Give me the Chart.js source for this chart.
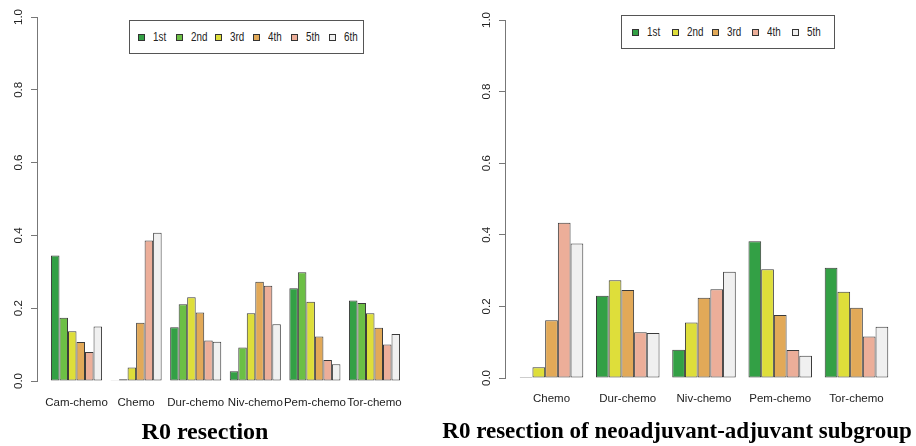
<!DOCTYPE html>
<html>
<head>
<meta charset="utf-8">
<script src="https://cdn.jsdelivr.net/npm/chart.js@4.4.1/dist/chart.umd.min.js"></script>
<style>
html,body{margin:0;padding:0;background:#fff;}
#wrap{position:relative;width:916px;height:446px;overflow:hidden;background:#fff;}
.cbox{position:absolute;top:0;height:446px;}
.legend{position:absolute;border:1px solid #555;display:flex;align-items:center;box-sizing:border-box;
  font-family:"Liberation Sans",Arial,sans-serif;font-size:12px;color:#222;background:#fff;}
.item{display:flex;align-items:center;flex:none;}
.sw{width:7px;height:7px;box-sizing:border-box;border:1px solid #333;margin-right:8px;flex:none;}
.tx{display:inline-block;transform:scaleX(0.82);transform-origin:0 50%;}
.title{position:absolute;font-family:"Liberation Serif",serif;font-weight:bold;font-size:24px;line-height:24px;color:#000;white-space:nowrap;text-align:center;}
</style>
</head>
<body>
<div id="wrap">
  <div class="cbox" style="left:0;width:430px;"><canvas id="cL" width="430" height="446"></canvas></div>
  <div class="cbox" style="left:460px;width:456px;"><canvas id="cR" width="456" height="446"></canvas></div>
  <div id="legL" class="legend" style="left:129px;top:20px;width:235px;height:34px;padding-left:8px;"></div>
  <div id="legR" class="legend" style="left:621px;top:15px;width:214px;height:34px;padding-left:10px;"></div>
  <div class="title" style="left:105px;width:200px;top:419px;">R0 resection</div>
  <div class="title" style="left:377px;width:600px;top:419px;font-size:23px;">R0 resection of neoadjuvant-adjuvant subgroup</div>
</div>
<script>
// ---------- data ----------
const leftCategories = ['Cam-chemo', 'Chemo', 'Dur-chemo', 'Niv-chemo', 'Pem-chemo', 'Tor-chemo'];
const leftSeriesLabels = ['1st', '2nd', '3rd', '4th', '5th', '6th'];
const left1st = [0.345, 0.002, 0.148, 0.027, 0.255, 0.221];
const left2nd = [0.174, 0.005, 0.211, 0.092, 0.299, 0.214];
const left3rd = [0.137, 0.037, 0.230, 0.186, 0.218, 0.186];
const left4th = [0.107, 0.160, 0.188, 0.273, 0.122, 0.146];
const left5th = [0.080, 0.386, 0.111, 0.262, 0.058, 0.100];
const left6th = [0.150, 0.407, 0.108, 0.156, 0.046, 0.129];

const rightCategories = ['Chemo', 'Dur-chemo', 'Niv-chemo', 'Pem-chemo', 'Tor-chemo'];
const rightSeriesLabels = ['1st', '2nd', '3rd', '4th', '5th'];
const right1st = [0.003, 0.230, 0.079, 0.382, 0.308];
const right2nd = [0.030, 0.273, 0.155, 0.304, 0.241];
const right3rd = [0.161, 0.246, 0.224, 0.176, 0.196];
const right4th = [0.434, 0.128, 0.248, 0.078, 0.116];
const right5th = [0.376, 0.126, 0.297, 0.062, 0.143];

const yTickValues = [0, 0.2, 0.4, 0.6, 0.8, 1.0];

// ---------- styles ----------
const leftColors = ['#33a045', '#6cbf45', '#dede3a', '#e2a958', '#ecae99', '#f0f0f0'];
const rightColors = ['#33a045', '#dede3a', '#e2a958', '#ecae99', '#f0f0f0'];
const AXIS_COLOR = '#777';
const TEXT_COLOR = '#222';
const tickFont = { family: 'Liberation Sans, Arial, sans-serif', size: 11.5 };

function makeChart(canvasId, categories, seriesLabels, series, colors, layoutPad, labelPad) {
  const k = series.length;          // bars per group
  const unit = k + 1;               // bars + one bar-width gap (R barplot space=c(0,1))
  const centers = categories.map((c, g) => g * unit + 1 + k / 2);
  const lo = 1, hi = categories.length * unit;
  const ext = (hi - lo) * 0.04;     // R's 4% axis extension
  const xMin = lo - ext, xMax = hi + ext;

  const datasets = series.map((vals, j) => ({
    label: seriesLabels[j],
    data: vals.map((v, g) => ({ x: centers[g], y: v })),
    backgroundColor: colors[j],
    borderColor: '#3a3a3a',
    borderWidth: 1,
    borderSkipped: false,
    categoryPercentage: k / unit,
    barPercentage: 1
  }));

  return new Chart(document.getElementById(canvasId), {
    type: 'bar',
    data: { datasets },
    options: {
      responsive: false,
      animation: false,
      devicePixelRatio: 1,
      layout: { padding: layoutPad },
      plugins: { legend: { display: false }, tooltip: { enabled: false }, title: { display: false } },
      scales: {
        x: {
          type: 'linear',
          offset: false,
          bounds: 'data',
          min: xMin,
          max: xMax,
          afterBuildTicks: s => { s.ticks = centers.map(v => ({ value: v })); },
          ticks: {
            autoSkip: false, minRotation: 0, maxRotation: 0,
            callback: (v, i) => categories[i],
            padding: labelPad, font: tickFont, color: TEXT_COLOR
          },
          grid: { display: false, drawTicks: false, offset: false },
          border: { display: false },
          afterFit: s => { s.height = 40; }
        },
        y: {
          min: 0, max: 1,
          afterBuildTicks: s => { s.ticks = yTickValues.map(v => ({ value: v })); },
          ticks: {
            callback: v => Number(v).toFixed(1),
            minRotation: 90, maxRotation: 90, crossAlign: 'center',
            padding: 4, font: tickFont, color: TEXT_COLOR
          },
          grid: { display: true, drawOnChartArea: false, drawTicks: true, tickLength: 6, color: AXIS_COLOR },
          border: { display: true, color: AXIS_COLOR, width: 1 },
          afterFit: s => { s.width = 37; }
        }
      }
    }
  });
}

function buildLegend(elId, chart, itemWidth) {
  const el = document.getElementById(elId);
  chart.data.datasets.forEach(ds => {
    const it = document.createElement('div');
    it.className = 'item';
    it.style.width = itemWidth + 'px';
    const sw = document.createElement('span');
    sw.className = 'sw';
    sw.style.background = ds.backgroundColor;
    const tx = document.createElement('span');
    tx.className = 'tx';
    tx.textContent = ds.label;
    it.appendChild(sw); it.appendChild(tx);
    el.appendChild(it);
  });
}

const chartL = makeChart('cL', leftCategories, leftSeriesLabels,
  [left1st, left2nd, left3rd, left4th, left5th, left6th], leftColors,
  { left: 0, right: 16, top: 17, bottom: 25 }, 15);
const chartR = makeChart('cR', rightCategories, rightSeriesLabels,
  [right1st, right2nd, right3rd, right4th, right5th], rightColors,
  { left: 8, right: 13, top: 20, bottom: 28 }, 14);

buildLegend('legL', chartL, 38.3);
buildLegend('legR', chartR, 40);
</script>
</body>
</html>
